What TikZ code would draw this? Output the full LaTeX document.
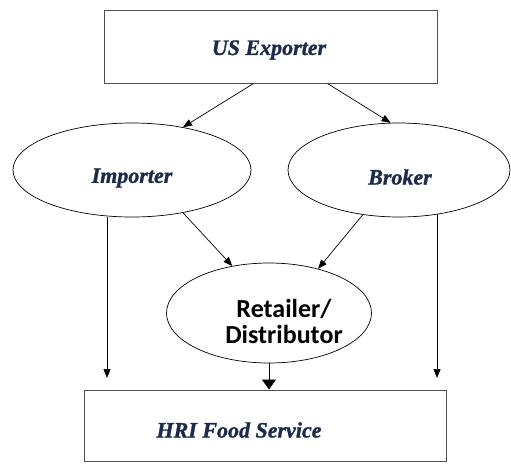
\documentclass[tikz,border=0pt]{standalone}
\usepackage{fontspec}
\setmainfont{Liberation Serif}
\newfontfamily\heavyserif[FakeBold=1.2]{Liberation Serif Bold Italic}
\newfontfamily\labelsans{Carlito}
\usetikzlibrary{shapes.geometric,arrows.meta}
\definecolor{navytext}{HTML}{1C2B4A}
\definecolor{boxline}{HTML}{505050}
\tikzset{
  flowbox/.style={draw=boxline, line width=1pt, rectangle, inner sep=0pt},
  flowoval/.style={draw=black, line width=0.7pt, ellipse, inner sep=0pt},
  serifname/.style={text=navytext, font=\heavyserif\fontsize{22}{24}\selectfont},
  link/.style={draw=black, line width=0.7pt, -{Triangle[length=9pt,width=7pt]}},
  biglink/.style={draw=black, line width=0.9pt, -{Triangle[length=10pt,width=14pt]}}
}
\begin{document}
\begin{tikzpicture}[x=1pt,y=-1pt]
  \useasboundingbox (0,0) rectangle (511,463);

  % boxes and ovals
  \node[flowbox, minimum width=333pt, minimum height=73pt] (exp) at (270.5,46.5) {};
  \node[serifname] (explbl) at (269,50) {US Exporter};

  \node[flowoval, minimum width=238pt, minimum height=94pt] (imp) at (132,170) {};
  \node[serifname] (implbl) at (132,178) {Importer};

  \node[flowoval, minimum width=222pt, minimum height=94pt] (brk) at (399,170) {};
  \node[serifname] (brklbl) at (400,177) {Broker};

  \node[flowoval, minimum width=205pt, minimum height=100pt] (ret) at (269,313) {};
  \node[font=\labelsans\fontsize{26}{26}\selectfont\bfseries, align=center] (retlbl) at (284,321) {Retailer/\\Distributor};

  \node[flowbox, minimum width=362pt, minimum height=71pt] (hri) at (265,425.5) {};
  \node[serifname] (hrilbl) at (239,430) {HRI Food Service};

  % free ends of the two long drops
  \coordinate (lend) at (107,378);
  \coordinate (rend) at (437,378);

  % connectors
  \draw[link] ([xshift=-17pt]exp.south) -- (imp.40);
  \draw[link] ([xshift=57pt]exp.south) -- (brk.100);
  \draw[link] (imp.-40) -- (ret.128);
  \draw[link] (brk.-129) -- (ret.42);
  \draw[link] (lend |- imp.south) -- (lend);
  \draw[link] ([yshift=3pt]rend |- brk.south) -- (rend);
  \draw[biglink] (ret.south) -- (ret.south |- hri.north);
\end{tikzpicture}
\end{document}
